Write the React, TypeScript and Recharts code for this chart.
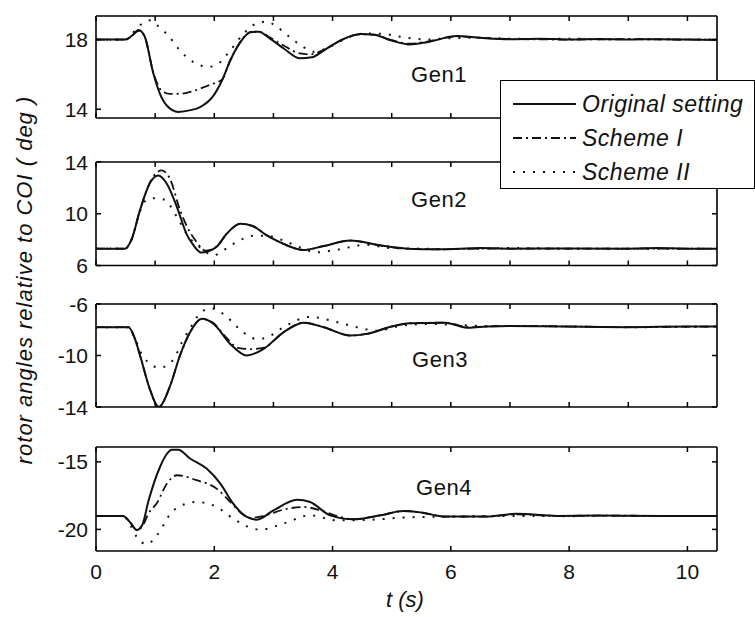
import { LineChart, Line, XAxis, YAxis } from "recharts";

// time (s), rotor angle relative to COI (deg)
const gen1Original: [number, number][] = [
  [0, 18], [0.5, 18], [0.6, 18.2], [0.72, 18.55], [0.82, 18.2], [0.97, 16.05], [1.08, 14.9], [1.2, 14.2],
  [1.39, 13.85], [1.6, 13.95], [1.76, 14.13], [1.99, 14.8], [2.13, 15.65], [2.27, 16.8], [2.44, 17.85],
  [2.61, 18.42], [2.75, 18.45], [2.95, 18.04], [3.18, 17.47], [3.45, 16.92], [3.65, 16.98], [3.85, 17.37],
  [4.13, 17.94], [4.47, 18.32], [4.7, 18.28], [5.0, 17.94], [5.3, 17.72], [5.6, 17.85], [6.1, 18.2],
  [6.5, 18.1], [7.0, 18.02], [7.5, 18.05], [8, 18.0], [8.5, 18.03], [9, 18.0], [9.5, 18.02], [10, 18.0], [10.5, 17.98],
];
const gen1SchemeI: [number, number][] = [
  [0, 18], [0.5, 18], [0.6, 18.2], [0.72, 18.5], [0.82, 18.2], [0.97, 16.1], [1.1, 15.1], [1.25, 14.88],
  [1.45, 14.9], [1.65, 15.05], [1.85, 15.3], [2.04, 15.55], [2.13, 15.7], [2.27, 16.8], [2.44, 17.85],
  [2.61, 18.42], [2.75, 18.45], [2.95, 18.1], [3.2, 17.6], [3.45, 17.2], [3.62, 17.15], [3.85, 17.4],
  [4.13, 17.94], [4.47, 18.3], [4.7, 18.28], [5.0, 17.96], [5.3, 17.76], [5.6, 17.88], [6.1, 18.18],
  [6.5, 18.1], [7, 18.03], [8, 18.0], [9, 18.02], [10, 18.0], [10.5, 18.0],
];
const gen1SchemeII: [number, number][] = [
  [0, 18], [0.5, 18], [0.6, 18.3], [0.745, 18.82], [0.91, 19.1], [1.03, 18.82], [1.22, 18.23], [1.42, 17.37],
  [1.65, 16.7], [1.9, 16.43], [2.04, 16.55], [2.27, 17.37], [2.49, 18.32], [2.72, 18.93], [2.89, 19.03],
  [3.06, 18.72], [3.28, 18.13], [3.51, 17.56], [3.68, 17.3], [3.9, 17.5], [4.19, 18.0], [4.53, 18.35],
  [4.86, 18.32], [5.2, 18.13], [5.6, 18.0], [6, 18.08], [6.5, 18.1], [7, 18.05], [7.5, 18.03], [8, 18.05],
  [8.5, 18.02], [9, 18.03], [9.5, 18.02], [10, 18.0], [10.5, 18.0],
];

const gen2Original: [number, number][] = [
  [0, 7.3], [0.49, 7.3], [0.6, 8.0], [0.745, 10.3], [0.91, 12.35], [1.05, 12.95], [1.2, 12.3], [1.37, 10.5],
  [1.53, 8.45], [1.65, 7.55], [1.78, 7.0], [1.9, 7.1], [2.04, 7.45], [2.2, 8.4], [2.44, 9.22], [2.65, 9.05],
  [2.89, 8.32], [3.17, 7.67], [3.5, 7.2], [3.85, 7.5], [4.3, 7.93], [4.81, 7.55], [5.26, 7.3], [5.8, 7.25],
  [6.5, 7.35], [7, 7.3], [8, 7.32], [9, 7.3], [9.5, 7.35], [10, 7.3], [10.5, 7.3],
];
const gen2SchemeI: [number, number][] = [
  [0, 7.3], [0.49, 7.3], [0.6, 8.0], [0.745, 10.3], [0.91, 12.4], [1.11, 13.35], [1.25, 12.7], [1.42, 10.3],
  [1.55, 8.9], [1.68, 7.95], [1.85, 7.15], [2.04, 7.45], [2.2, 8.4], [2.44, 9.22], [2.65, 9.05], [2.89, 8.32],
  [3.17, 7.67], [3.5, 7.2], [3.85, 7.5], [4.3, 7.93], [4.81, 7.55], [5.26, 7.3], [5.8, 7.25], [6.5, 7.3],
  [7, 7.3], [8, 7.3], [9, 7.3], [10, 7.3], [10.5, 7.3],
];
const gen2SchemeII: [number, number][] = [
  [0, 7.3], [0.49, 7.3], [0.6, 8.0], [0.745, 10.2], [0.86, 11.1], [1.0, 11.2], [1.15, 11.1], [1.37, 9.74],
  [1.53, 8.45], [1.76, 7.4], [1.98, 6.8], [2.32, 7.67], [2.66, 8.3], [2.89, 8.3], [3.17, 7.93], [3.45, 7.4],
  [3.73, 7.02], [4.05, 7.2], [4.58, 7.6], [4.98, 7.35], [5.5, 7.3], [6, 7.28], [6.5, 7.3], [7, 7.35],
  [8, 7.3], [9, 7.3], [10, 7.3], [10.5, 7.3],
];

const gen3Original: [number, number][] = [
  [0, -7.8], [0.55, -7.8], [0.65, -8.6], [0.745, -10.0], [0.91, -12.6], [1.06, -14.0], [1.25, -12.4],
  [1.42, -10.0], [1.59, -8.2], [1.79, -7.15], [1.99, -7.55], [2.27, -9.1], [2.55, -10.0], [2.83, -9.5],
  [3.17, -8.2], [3.51, -7.45], [3.85, -7.8], [4.3, -8.45], [4.58, -8.32], [5.0, -7.75], [5.3, -7.5],
  [5.9, -7.45], [6.3, -7.85], [6.6, -7.75], [7, -7.7], [8, -7.75], [9, -7.8], [10, -7.75], [10.5, -7.75],
];
const gen3SchemeI: [number, number][] = [
  [0, -7.8], [0.55, -7.8], [0.65, -8.6], [0.745, -10.0], [0.91, -12.6], [1.06, -14.0], [1.25, -12.4],
  [1.42, -10.0], [1.59, -8.2], [1.79, -7.15], [1.99, -7.5], [2.2, -8.6], [2.4, -9.4], [2.6, -9.5],
  [2.83, -9.4], [3.17, -8.2], [3.51, -7.45], [3.85, -7.8], [4.3, -8.45], [4.58, -8.32], [5.0, -7.75],
  [5.3, -7.5], [5.9, -7.45], [6.3, -7.8], [6.6, -7.75], [7, -7.7], [8, -7.75], [9, -7.8], [10, -7.75], [10.5, -7.75],
];
const gen3SchemeII: [number, number][] = [
  [0, -7.8], [0.55, -7.8], [0.65, -8.6], [0.8, -10.1], [1.08, -10.95], [1.31, -10.3], [1.45, -9.0],
  [1.59, -7.9], [1.82, -6.5], [1.99, -6.37], [2.21, -7.0], [2.49, -8.2], [2.72, -8.72], [2.89, -8.6],
  [3.17, -7.8], [3.62, -7.0], [4.07, -7.4], [4.41, -7.8], [4.75, -8.07], [5.15, -7.7], [5.6, -7.55],
  [6, -7.6], [6.5, -7.7], [7, -7.7], [8, -7.75], [9, -7.8], [10, -7.78], [10.5, -7.75],
];

const gen4Original: [number, number][] = [
  [0, -19], [0.46, -19], [0.58, -19.5], [0.69, -20.05], [0.78, -19.7], [0.89, -17.85], [1.08, -15.4],
  [1.2, -14.4], [1.28, -14.1], [1.39, -14.1], [1.59, -14.75], [1.87, -15.5], [2.1, -16.6], [2.32, -18.1],
  [2.55, -19.08], [2.72, -19.28], [3.0, -18.6], [3.4, -17.8], [3.62, -17.97], [3.96, -18.96], [4.36, -19.25],
  [4.81, -18.96], [5.2, -18.64], [5.5, -18.75], [5.9, -19.05], [6.6, -19.05], [7.1, -18.85], [7.8, -19.0],
  [8.5, -18.98], [9.6, -19.0], [10.5, -19.0],
];
const gen4SchemeI: [number, number][] = [
  [0, -19], [0.46, -19], [0.58, -19.5], [0.69, -20.05], [0.78, -19.8], [0.89, -18.8], [1.03, -18.05],
  [1.2, -16.6], [1.37, -15.99], [1.7, -16.36], [2.04, -16.98], [2.27, -17.97], [2.5, -18.95], [2.61, -19.15],
  [2.83, -19.0], [3.2, -18.5], [3.51, -18.34], [3.8, -18.6], [4.1, -19.05], [4.36, -19.25], [4.81, -18.96],
  [5.2, -18.64], [5.5, -18.75], [5.9, -19.05], [6.6, -19.05], [7.1, -18.88], [7.8, -19.0], [8.5, -18.98],
  [9.6, -19.0], [10.5, -19.0],
];
const gen4SchemeII: [number, number][] = [
  [0, -19], [0.46, -19], [0.58, -19.7], [0.69, -20.57], [0.86, -21.1], [1.03, -20.44], [1.31, -18.59],
  [1.7, -17.97], [2.04, -18.34], [2.32, -19.2], [2.78, -20.02], [3.17, -19.57], [3.62, -18.96], [4.07, -19.33],
  [4.58, -19.3], [5.3, -19.1], [6, -19.05], [7, -19.0], [8, -19.02], [9, -19.0], [10.5, -19.0],
];

const seriesNames = ["Original setting", "Scheme I", "Scheme II"];
const seriesDash = [undefined, "9 4 2 4", "2 8"];
const seriesWidth = [2, 1.8, 2];

const xTicksFine = [0, 1, 2, 3, 4, 5, 6, 7, 8, 9, 10];
const xTicksCoarse = [0, 2, 4, 6, 8, 10];

const panels = [
  { name: "Gen1", series: [gen1Original, gen1SchemeI, gen1SchemeII], domain: [13.5, 19.35], yTicks: [14, 18], top: 15.5, bottom: 117.5, label: [439, 75] },
  { name: "Gen2", series: [gen2Original, gen2SchemeI, gen2SchemeII], domain: [6, 14], yTicks: [6, 10, 14], top: 161.5, bottom: 265, label: [439, 200] },
  { name: "Gen3", series: [gen3Original, gen3SchemeI, gen3SchemeII], domain: [-14, -6], yTicks: [-14, -10, -6], top: 303.5, bottom: 406.5, label: [440, 360] },
  { name: "Gen4", series: [gen4Original, gen4SchemeI, gen4SchemeII], domain: [-21.6, -13.9], yTicks: [-20, -15], top: 447, bottom: 551, label: [444, 488] },
];

const FONT = "'Liberation Sans', Arial, sans-serif";
const PLOT_LEFT = 96;
const PLOT_RIGHT = 717;
const W = 755;
const AX = 1; // axis band size, keeps the axes rendered

const toPoints = (pts: [number, number][]) => pts.map(([t, v]) => ({ t, v }));

function BottomTick({ x, y, payload, showLabel }: any) {
  return (
    <g>
      <line x1={x} x2={x} y1={y} y2={y - 5} stroke="#000" strokeWidth={1.5} />
      {showLabel && (
        <text x={x} y={y + 28} textAnchor="middle" fontSize={21} fontFamily={FONT} fill="#111">
          {payload.value}
        </text>
      )}
    </g>
  );
}

function TopTick({ x, y }: any) {
  return <line x1={x} x2={x} y1={y} y2={y + 5} stroke="#000" strokeWidth={1.5} />;
}

function LeftTick({ x, y, payload }: any) {
  return (
    <g>
      <line x1={x} x2={x + 5} y1={y} y2={y} stroke="#000" strokeWidth={1.5} />
      <text x={x - 8} y={y + 7.5} textAnchor="end" fontSize={21} fontFamily={FONT} fill="#111">
        {payload.value}
      </text>
    </g>
  );
}

function RightTick({ x, y }: any) {
  return <line x1={x} x2={x - 5} y1={y} y2={y} stroke="#000" strokeWidth={1.5} />;
}

function Panel({ panel, last }: { panel: (typeof panels)[number]; last: boolean }) {
  const mt = 10;
  const mb = last ? 60 : 10;
  const h = panel.bottom - panel.top + mt + mb;
  const axisLine = { stroke: "#000", strokeWidth: 1.6 };
  return (
    <div style={{ position: "absolute", left: 0, top: panel.top - mt }}>
      <LineChart
        width={W}
        height={h}
        margin={{ top: mt - AX, right: W - PLOT_RIGHT - AX, bottom: mb - AX, left: PLOT_LEFT - AX }}
      >
        <XAxis
          xAxisId="b"
          dataKey="t"
          type="number"
          domain={[0, 10.5]}
          allowDataOverflow
          ticks={last ? xTicksCoarse : xTicksFine}
          interval={0}
          height={AX}
          tickSize={0}
          tickMargin={0}
          tickLine={false}
          axisLine={axisLine}
          tick={(p: any) => <BottomTick {...p} showLabel={last} />}
        />
        <XAxis
          xAxisId="t"
          orientation="top"
          dataKey="t"
          type="number"
          domain={[0, 10.5]}
          allowDataOverflow
          ticks={last ? xTicksCoarse : xTicksFine}
          interval={0}
          height={AX}
          tickSize={0}
          tickMargin={0}
          tickLine={false}
          axisLine={axisLine}
          tick={(p: any) => <TopTick {...p} />}
        />
        <YAxis
          yAxisId="l"
          type="number"
          domain={panel.domain}
          allowDataOverflow
          ticks={panel.yTicks}
          interval={0}
          width={AX}
          tickSize={0}
          tickMargin={0}
          tickLine={false}
          axisLine={axisLine}
          tick={(p: any) => <LeftTick {...p} />}
        />
        <YAxis
          yAxisId="r"
          orientation="right"
          type="number"
          domain={panel.domain}
          allowDataOverflow
          ticks={panel.yTicks}
          interval={0}
          width={AX}
          tickSize={0}
          tickMargin={0}
          tickLine={false}
          axisLine={axisLine}
          tick={(p: any) => <RightTick {...p} />}
        />
        {panel.series.map((pts, i) => (
          <Line
            key={seriesNames[i]}
            xAxisId="b"
            yAxisId="l"
            data={toPoints(pts)}
            dataKey="v"
            type="monotone"
            stroke="#111"
            strokeWidth={seriesWidth[i]}
            strokeDasharray={seriesDash[i]}
            dot={false}
            isAnimationActive={false}
          />
        ))}
      </LineChart>
    </div>
  );
}

function LegendBox() {
  return (
    <div
      style={{
        position: "absolute",
        left: 500,
        top: 80,
        width: 253,
        height: 107,
        border: "1.6px solid #000",
        background: "#fff",
        fontFamily: FONT,
        fontStyle: "italic",
        fontSize: 23,
        letterSpacing: 0.5,
        color: "#111",
      }}
    >
      {seriesNames.map((name, i) => (
        <div key={name} style={{ position: "absolute", left: 0, top: 9 + i * 34, height: 28, display: "flex", alignItems: "center" }}>
          <svg width={80} height={28} style={{ display: "block" }}>
            <line x1={12} x2={75} y1={14} y2={14} stroke="#111" strokeWidth={seriesWidth[i]} strokeDasharray={seriesDash[i]} />
          </svg>
          <span style={{ marginLeft: 1, whiteSpace: "nowrap" }}>{name}</span>
        </div>
      ))}
    </div>
  );
}

export default function App() {
  return (
    <div style={{ position: "absolute", left: 0, top: 0, width: W, height: 617, background: "#fff", overflow: "hidden" }}>
      {panels.map((p, i) => (
        <Panel key={p.name} panel={p} last={i === panels.length - 1} />
      ))}
      {panels.map((p) => (
        <div
          key={p.name + "-label"}
          style={{
            position: "absolute",
            left: p.label[0] - 45,
            top: p.label[1] - 13,
            width: 90,
            textAlign: "center",
            fontFamily: FONT,
            fontSize: 22,
            letterSpacing: 0.5,
            lineHeight: "26px",
            color: "#111",
          }}
        >
          {p.name}
        </div>
      ))}
      <LegendBox />
      <div
        style={{
          position: "absolute",
          left: 25 - 200,
          top: 280 - 13,
          width: 400,
          height: 26,
          lineHeight: "26px",
          textAlign: "center",
          transform: "rotate(-90deg)",
          fontFamily: FONT,
          fontStyle: "italic",
          fontSize: 22,
          letterSpacing: 1,
          color: "#111",
          whiteSpace: "nowrap",
        }}
      >
        rotor angles relative to COI ( deg )
      </div>
      <div
        style={{
          position: "absolute",
          left: 405 - 50,
          top: 600 - 13,
          width: 100,
          lineHeight: "26px",
          textAlign: "center",
          fontFamily: FONT,
          fontStyle: "italic",
          fontSize: 22,
          color: "#111",
        }}
      >
        t (s)
      </div>
    </div>
  );
}
